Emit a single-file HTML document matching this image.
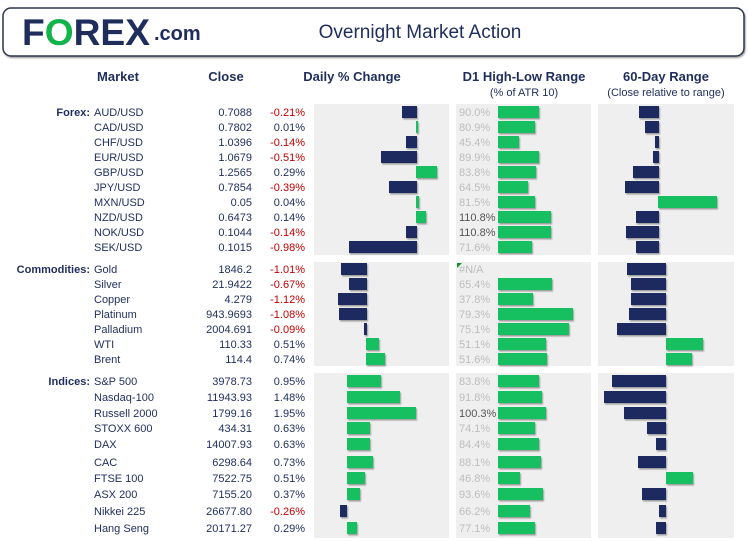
<!DOCTYPE html>
<html><head><meta charset="utf-8"><style>
html,body{margin:0;padding:0;background:#fff;}
svg{display:block;font-family:"Liberation Sans",sans-serif;}
.h{font-weight:bold;font-size:13px;fill:#1f2d5c;text-anchor:middle}
.s{font-size:11px;fill:#1f2d5c;text-anchor:middle}
.c{font-weight:bold;font-size:11px;fill:#1f2d5c;text-anchor:end}
.m{font-size:11px;fill:#1f2d5c}
.v{font-size:11px;fill:#1f2d5c;text-anchor:end}
.r{font-size:11px;fill:#c00000;text-anchor:end}
.k{font-size:11px;fill:#1f2d5c;text-anchor:end}
.g{font-size:11px;fill:#bdbdbd}
.gd{font-size:11px;fill:#555}
.p{fill:#efefef}
.b{fill:#1c2a5e}
.e{fill:#12c060}
</style></head><body>
<svg width="749" height="541" viewBox="0 0 749 541">
<defs><filter id="sh" x="-10%" y="-20%" width="130%" height="160%"><feDropShadow dx="1" dy="1.5" stdDeviation="0.8" flood-color="#000" flood-opacity="0.35"/></filter></defs>
<rect x="3" y="8" width="741" height="48" rx="8" fill="#fff" stroke="#2a3550" stroke-width="1.5" filter="url(#sh)"/>
<text x="22" y="45" font-size="37" font-weight="bold" fill="#1f2d5c" textLength="128" lengthAdjust="spacingAndGlyphs">F<tspan fill="#12b34a">O</tspan>REX</text>
<text x="154" y="40" font-size="20" font-weight="bold" fill="#1f2d5c">.com</text>
<text x="420" y="38" font-size="19" fill="#1f2d5c" text-anchor="middle">Overnight Market Action</text>
<text class="h" x="118" y="81">Market</text>
<text class="h" x="226" y="81">Close</text>
<text class="h" x="352" y="81">Daily % Change</text>
<text class="h" x="524" y="81">D1 High-Low Range</text>
<text class="s" x="524" y="96">(% of ATR 10)</text>
<text class="h" x="666" y="81">60-Day Range</text>
<text class="s" x="666" y="96">(Close relative to range)</text>
<rect class="p" x="314" y="104" width="135" height="151"/><rect class="p" x="456" y="104" width="135" height="151"/><rect class="p" x="598" y="104" width="136" height="151"/>
<rect class="p" x="314" y="262" width="135" height="104"/><rect class="p" x="456" y="262" width="135" height="104"/><rect class="p" x="598" y="262" width="136" height="104"/>
<rect class="p" x="314" y="373" width="135" height="165"/><rect class="p" x="456" y="373" width="135" height="165"/><rect class="p" x="598" y="373" width="136" height="165"/>
<text class="c" x="90" y="116">Forex:</text>
<text class="c" x="90" y="273">Commodities:</text>
<text class="c" x="90" y="385">Indices:</text>
<g>
<text class="m" x="94" y="116">AUD/USD</text><text class="v" x="252" y="116">0.7088</text><text class="r" x="305" y="116">-0.21%</text>
<text class="m" x="94" y="131">CAD/USD</text><text class="v" x="252" y="131">0.7802</text><text class="k" x="305" y="131">0.01%</text>
<text class="m" x="94" y="146">CHF/USD</text><text class="v" x="252" y="146">1.0396</text><text class="r" x="305" y="146">-0.14%</text>
<text class="m" x="94" y="161">EUR/USD</text><text class="v" x="252" y="161">1.0679</text><text class="r" x="305" y="161">-0.51%</text>
<text class="m" x="94" y="176">GBP/USD</text><text class="v" x="252" y="176">1.2565</text><text class="k" x="305" y="176">0.29%</text>
<text class="m" x="94" y="191">JPY/USD</text><text class="v" x="252" y="191">0.7854</text><text class="r" x="305" y="191">-0.39%</text>
<text class="m" x="94" y="206">MXN/USD</text><text class="v" x="252" y="206">0.05</text><text class="k" x="305" y="206">0.04%</text>
<text class="m" x="94" y="221">NZD/USD</text><text class="v" x="252" y="221">0.6473</text><text class="k" x="305" y="221">0.14%</text>
<text class="m" x="94" y="236">NOK/USD</text><text class="v" x="252" y="236">0.1044</text><text class="r" x="305" y="236">-0.14%</text>
<text class="m" x="94" y="251">SEK/USD</text><text class="v" x="252" y="251">0.1015</text><text class="r" x="305" y="251">-0.98%</text>
<text class="m" x="94" y="273">Gold</text><text class="v" x="252" y="273">1846.2</text><text class="r" x="305" y="273">-1.01%</text>
<text class="m" x="94" y="288">Silver</text><text class="v" x="252" y="288">21.9422</text><text class="r" x="305" y="288">-0.67%</text>
<text class="m" x="94" y="303">Copper</text><text class="v" x="252" y="303">4.279</text><text class="r" x="305" y="303">-1.12%</text>
<text class="m" x="94" y="318">Platinum</text><text class="v" x="252" y="318">943.9693</text><text class="r" x="305" y="318">-1.08%</text>
<text class="m" x="94" y="333">Palladium</text><text class="v" x="252" y="333">2004.691</text><text class="r" x="305" y="333">-0.09%</text>
<text class="m" x="94" y="348">WTI</text><text class="v" x="252" y="348">110.33</text><text class="k" x="305" y="348">0.51%</text>
<text class="m" x="94" y="363">Brent</text><text class="v" x="252" y="363">114.4</text><text class="k" x="305" y="363">0.74%</text>
<text class="m" x="94" y="385">S&amp;P 500</text><text class="v" x="252" y="385">3978.73</text><text class="k" x="305" y="385">0.95%</text>
<text class="m" x="94" y="401">Nasdaq-100</text><text class="v" x="252" y="401">11943.93</text><text class="k" x="305" y="401">1.48%</text>
<text class="m" x="94" y="417">Russell 2000</text><text class="v" x="252" y="417">1799.16</text><text class="k" x="305" y="417">1.95%</text>
<text class="m" x="94" y="432">STOXX 600</text><text class="v" x="252" y="432">434.31</text><text class="k" x="305" y="432">0.63%</text>
<text class="m" x="94" y="448">DAX</text><text class="v" x="252" y="448">14007.93</text><text class="k" x="305" y="448">0.63%</text>
<text class="m" x="94" y="466">CAC</text><text class="v" x="252" y="466">6298.64</text><text class="k" x="305" y="466">0.73%</text>
<text class="m" x="94" y="482">FTSE 100</text><text class="v" x="252" y="482">7522.75</text><text class="k" x="305" y="482">0.51%</text>
<text class="m" x="94" y="498">ASX 200</text><text class="v" x="252" y="498">7155.20</text><text class="k" x="305" y="498">0.37%</text>
<text class="m" x="94" y="515">Nikkei 225</text><text class="v" x="252" y="515">26677.80</text><text class="r" x="305" y="515">-0.26%</text>
<text class="m" x="94" y="532">Hang Seng</text><text class="v" x="252" y="532">20171.27</text><text class="k" x="305" y="532">0.29%</text>
</g>
<g filter="url(#sh)">
<rect class="b" x="402" y="106" width="15" height="12"/><rect class="e" x="416" y="121" width="2" height="12"/>
<rect class="b" x="406" y="136" width="11" height="12"/><rect class="b" x="381" y="151" width="36" height="12"/>
<rect class="e" x="416" y="166" width="21" height="12"/><rect class="b" x="389" y="181" width="28" height="12"/>
<rect class="e" x="416" y="196" width="3" height="12"/><rect class="e" x="416" y="211" width="10" height="12"/>
<rect class="b" x="406" y="226" width="11" height="12"/><rect class="b" x="349" y="241" width="68" height="12"/>
<rect class="b" x="341" y="263" width="26" height="12"/><rect class="b" x="349" y="278" width="18" height="12"/>
<rect class="b" x="338" y="293" width="29" height="12"/><rect class="b" x="339" y="308" width="28" height="12"/>
<rect class="b" x="364" y="323" width="3" height="12"/><rect class="e" x="366" y="338" width="13" height="12"/>
<rect class="e" x="366" y="353" width="19" height="12"/>
<rect class="e" x="347" y="375" width="34" height="12"/><rect class="e" x="347" y="391" width="53" height="12"/>
<rect class="e" x="347" y="407" width="69" height="12"/><rect class="e" x="347" y="422" width="23" height="12"/>
<rect class="e" x="347" y="438" width="23" height="12"/><rect class="e" x="347" y="456" width="26" height="12"/>
<rect class="e" x="347" y="472" width="18" height="12"/><rect class="e" x="347" y="488" width="13" height="12"/>
<rect class="b" x="340" y="505" width="7" height="12"/><rect class="e" x="347" y="522" width="10" height="12"/>
<rect class="e" x="498" y="106" width="41" height="12"/><rect class="e" x="498" y="121" width="37" height="12"/>
<rect class="e" x="498" y="136" width="21" height="12"/><rect class="e" x="498" y="151" width="41" height="12"/>
<rect class="e" x="498" y="166" width="38" height="12"/><rect class="e" x="498" y="181" width="30" height="12"/>
<rect class="e" x="498" y="196" width="37" height="12"/><rect class="e" x="498" y="211" width="53" height="12"/>
<rect class="e" x="498" y="226" width="53" height="12"/><rect class="e" x="498" y="241" width="34" height="12"/>
<rect class="e" x="498" y="278" width="54" height="12"/><rect class="e" x="498" y="293" width="35" height="12"/>
<rect class="e" x="498" y="308" width="75" height="12"/><rect class="e" x="498" y="323" width="71" height="12"/>
<rect class="e" x="498" y="338" width="48" height="12"/><rect class="e" x="498" y="353" width="49" height="12"/>
<rect class="e" x="498" y="375" width="41" height="12"/><rect class="e" x="498" y="391" width="44" height="12"/>
<rect class="e" x="498" y="407" width="48" height="12"/><rect class="e" x="498" y="422" width="37" height="12"/>
<rect class="e" x="498" y="438" width="41" height="12"/><rect class="e" x="498" y="456" width="43" height="12"/>
<rect class="e" x="498" y="472" width="22" height="12"/><rect class="e" x="498" y="488" width="45" height="12"/>
<rect class="e" x="498" y="505" width="32" height="12"/><rect class="e" x="498" y="522" width="37" height="12"/>
<rect class="b" x="639" y="106" width="20" height="12"/><rect class="b" x="645" y="121" width="14" height="12"/>
<rect class="b" x="655" y="136" width="4" height="12"/><rect class="b" x="653" y="151" width="6" height="12"/>
<rect class="b" x="633" y="166" width="26" height="12"/><rect class="b" x="625" y="181" width="34" height="12"/>
<rect class="e" x="658" y="196" width="59" height="12"/><rect class="b" x="636" y="211" width="23" height="12"/>
<rect class="b" x="626" y="226" width="33" height="12"/><rect class="b" x="636" y="241" width="23" height="12"/>
<rect class="b" x="627" y="263" width="39" height="12"/><rect class="b" x="631" y="278" width="35" height="12"/>
<rect class="b" x="631" y="293" width="35" height="12"/><rect class="b" x="629" y="308" width="37" height="12"/>
<rect class="b" x="617" y="323" width="49" height="12"/><rect class="e" x="666" y="338" width="37" height="12"/>
<rect class="e" x="666" y="353" width="26" height="12"/>
<rect class="b" x="612" y="375" width="54" height="12"/><rect class="b" x="604" y="391" width="62" height="12"/>
<rect class="b" x="624" y="407" width="42" height="12"/><rect class="b" x="647" y="422" width="19" height="12"/>
<rect class="b" x="656" y="438" width="10" height="12"/><rect class="b" x="638" y="456" width="28" height="12"/>
<rect class="e" x="666" y="472" width="27" height="12"/><rect class="b" x="642" y="488" width="24" height="12"/>
<rect class="b" x="659" y="505" width="7" height="12"/><rect class="b" x="656" y="522" width="10" height="12"/>
</g>
<g>
<text class="g" x="459" y="116">90.0%</text><text class="g" x="459" y="131">80.9%</text><text class="g" x="459" y="146">45.4%</text>
<text class="g" x="459" y="161">89.9%</text><text class="g" x="459" y="176">83.8%</text><text class="g" x="459" y="191">64.5%</text>
<text class="g" x="459" y="206">81.5%</text><text class="gd" x="459" y="221">110.8%</text><text class="gd" x="459" y="236">110.8%</text>
<text class="g" x="459" y="251">71.6%</text>
<polygon points="457,263 462,263 457,268" fill="#1a8a3a"/>
<text class="g" x="459" y="273">#N/A</text><text class="g" x="459" y="288">65.4%</text><text class="g" x="459" y="303">37.8%</text>
<text class="g" x="459" y="318">79.3%</text><text class="g" x="459" y="333">75.1%</text><text class="g" x="459" y="348">51.1%</text>
<text class="g" x="459" y="363">51.6%</text>
<text class="g" x="459" y="385">83.8%</text><text class="g" x="459" y="401">91.8%</text><text class="gd" x="459" y="417">100.3%</text>
<text class="g" x="459" y="432">74.1%</text><text class="g" x="459" y="448">84.4%</text><text class="g" x="459" y="466">88.1%</text>
<text class="g" x="459" y="482">46.8%</text><text class="g" x="459" y="498">93.6%</text><text class="g" x="459" y="515">66.2%</text>
<text class="g" x="459" y="532">77.1%</text>
</g>
</svg>
</body></html>
